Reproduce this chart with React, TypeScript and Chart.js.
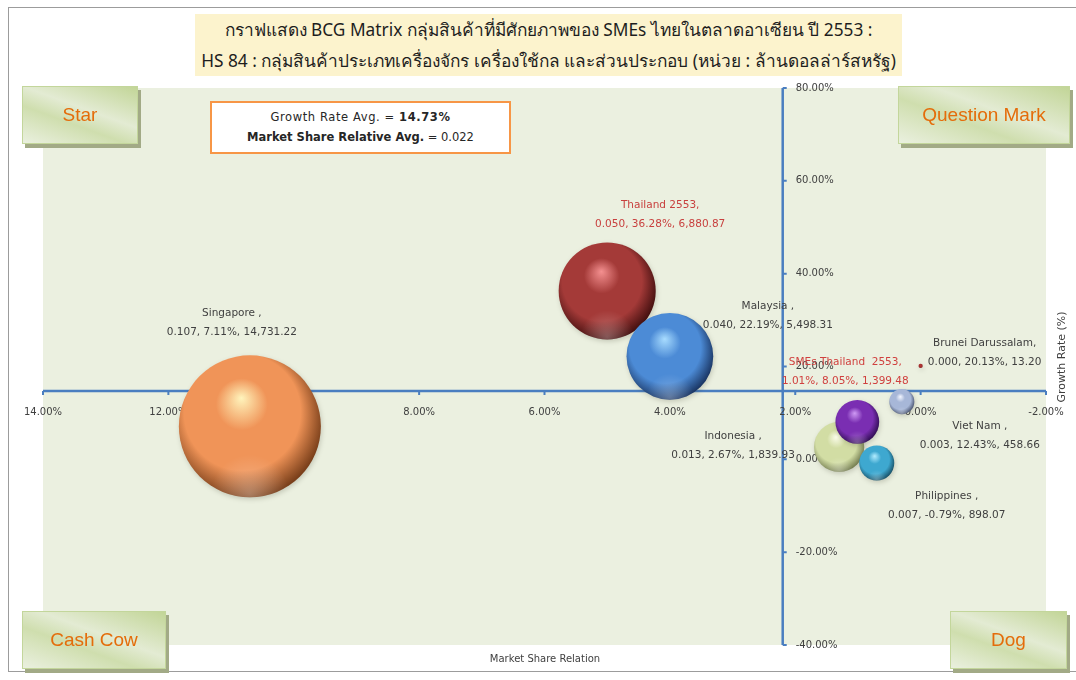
import React, { useEffect, useRef } from "react";
import { Chart, registerables } from "chart.js";

Chart.register(...registerables);

// ---- data ----
const labelNames = [
  "Singapore ,",
  "Thailand 2553,",
  "Malaysia ,",
  "Indonesia ,",
  "SMEs Thailand  2553,",
  "Philippines ,",
  "Viet Nam ,",
  "Brunei Darussalam,",
];
// relative market share (ratio)
const marketShare = [0.107, 0.05, 0.04, 0.013, 0.0101, 0.007, 0.003, 0.0];
// growth rate (%)
const growthRate = [7.11, 36.28, 22.19, 2.67, 8.05, -0.79, 12.43, 20.13];
// export value (million USD)
const exportValue = [14731.22, 6880.87, 5498.31, 1839.93, 1399.48, 898.07, 458.66, 13.2];
// the SMEs series reports its share as a percentage
const shareShownAsPercent = [false, false, false, false, true, false, false, false];

const xTickValues = [14, 12, 10, 8, 6, 4, 2, 0, -2];
const yTickValues = [80, 60, 40, 20, 0, -20, -40];
const growthAvg = 14.73;
const shareAvg = 0.022;

// ---- styling ----
const bubbleShades: [string, string, string][] = [
  ["#FFF4BC", "#F09458", "#7A3F1A"], // Singapore
  ["#F49090", "#A43A38", "#451010"], // Thailand
  ["#A8DCFF", "#4C8BD6", "#1B3765"], // Malaysia
  ["#FBFDEB", "#D2DDA4", "#767F52"], // Indonesia
  ["#CF9AF4", "#7A2EB2", "#330F57"], // SMEs Thailand
  ["#B2ECFF", "#3EA8D0", "#1A546B"], // Philippines
  ["#F3F6FF", "#A7B7D8", "#4F5A76"], // Viet Nam
  ["#C04040", "#A83030", "#7A1A1A"], // Brunei
];
const labelColors = ["#404040", "#C8403E", "#404040", "#404040", "#D0403E", "#404040", "#404040", "#404040"];
const labelOffsets: [number, number][] = [
  [-18, -113],
  [53, -86],
  [98, -50],
  [-106, -11],
  [-12, -60],
  [70, 33],
  [78, 25],
  [64, -23],
];
const BUBBLE_SCALE = 0.585;
const AXIS_BLUE = "#4A7EC0";
const TEXT_FONT = '"DejaVu Sans", "Noto Sans", sans-serif';

const fmtMoney = (v: number) =>
  v.toLocaleString("en-US", { minimumFractionDigits: 2, maximumFractionDigits: 2 });

const valueLine = (i: number) => {
  const share = shareShownAsPercent[i]
    ? (marketShare[i] * 100).toFixed(2) + "%"
    : marketShare[i].toFixed(3);
  return `${share}, ${growthRate[i].toFixed(2)}%, ${fmtMoney(exportValue[i])}`;
};

const plotBackground = {
  id: "plotBackground",
  beforeDraw(chart: any) {
    const { ctx, chartArea } = chart;
    ctx.save();
    ctx.fillStyle = "#EBF0E0";
    ctx.fillRect(chartArea.left, chartArea.top, chartArea.right - chartArea.left, chartArea.bottom - chartArea.top);
    ctx.restore();
  },
};

// axes crossing at the averages, drawn under the bubbles
const crossAxes = {
  id: "crossAxes",
  beforeDatasetsDraw(chart: any) {
    const { ctx, chartArea, scales } = chart;
    const xs = scales.x;
    const ys = scales.y;
    const axisY = ys.getPixelForValue(growthAvg);
    const axisX = xs.getPixelForValue(shareAvg * 100);
    ctx.save();
    ctx.strokeStyle = AXIS_BLUE;
    ctx.lineWidth = 2.5;
    ctx.beginPath();
    ctx.moveTo(chartArea.left, axisY);
    ctx.lineTo(chartArea.right, axisY);
    ctx.moveTo(axisX, chartArea.top);
    ctx.lineTo(axisX, chartArea.bottom);
    ctx.stroke();

    ctx.lineWidth = 2;
    ctx.beginPath();
    xTickValues.forEach((v) => {
      const px = xs.getPixelForValue(v);
      ctx.moveTo(px, axisY);
      ctx.lineTo(px, axisY + 4);
    });
    yTickValues.forEach((v) => {
      const py = ys.getPixelForValue(v);
      ctx.moveTo(axisX, py);
      ctx.lineTo(axisX + 4, py);
    });
    ctx.stroke();

    ctx.fillStyle = "#404040";
    ctx.font = `10px ${TEXT_FONT}`;
    ctx.textAlign = "center";
    ctx.textBaseline = "middle";
    xTickValues.forEach((v) => {
      ctx.fillText(v.toFixed(2) + "%", xs.getPixelForValue(v), axisY + 21);
    });
    ctx.textAlign = "left";
    yTickValues.forEach((v) => {
      ctx.fillText(v.toFixed(2) + "%", axisX + 13, ys.getPixelForValue(v));
    });

    // axis titles
    ctx.font = `10px ${TEXT_FONT}`;
    ctx.textAlign = "center";
    ctx.fillText("Market Share Relation", 545, 659);
    ctx.translate(1062, 357);
    ctx.rotate(-Math.PI / 2);
    ctx.font = `11px ${TEXT_FONT}`;
    ctx.fillText("Growth Rate (%)", 0, 0);
    ctx.restore();
  },
  beforeDatasetDraw(chart: any) {
    const ctx = chart.ctx;
    ctx.save();
    ctx.shadowColor = "rgba(60,60,40,0.22)";
    ctx.shadowBlur = 5;
    ctx.shadowOffsetX = 1;
    ctx.shadowOffsetY = 2;
  },
  afterDatasetDraw(chart: any) {
    chart.ctx.restore();
  },
};

// soft light rim along the lower edge of each sphere, then the data labels
const bubbleLabels = {
  id: "bubbleLabels",
  afterDatasetsDraw(chart: any) {
    const { ctx } = chart;
    const meta = chart.getDatasetMeta(0);
    ctx.save();
    meta.data.forEach((el: any) => {
      const r = el.options.radius;
      if (r < 5) return;
      ctx.save();
      ctx.beginPath();
      ctx.arc(el.x, el.y, r, 0, Math.PI * 2);
      ctx.clip();
      const g = ctx.createRadialGradient(el.x, el.y + r * 0.95, 0, el.x, el.y + r * 0.95, r * 0.55);
      g.addColorStop(0, "rgba(255,255,255,0.28)");
      g.addColorStop(1, "rgba(255,255,255,0)");
      ctx.fillStyle = g;
      ctx.fillRect(el.x - r, el.y - r, 2 * r, 2 * r);
      ctx.restore();
    });

    ctx.font = `10.5px ${TEXT_FONT}`;
    ctx.textAlign = "center";
    ctx.textBaseline = "middle";
    meta.data.forEach((el: any, i: number) => {
      const [dx, dy] = labelOffsets[i];
      ctx.fillStyle = labelColors[i];
      ctx.fillText(labelNames[i], el.x + dx, el.y + dy);
      ctx.fillText(valueLine(i), el.x + dx, el.y + dy + 19);
    });
    ctx.restore();
  },
};

function BcgChart() {
  const canvasRef = useRef<HTMLCanvasElement | null>(null);

  useEffect(() => {
    if (!canvasRef.current) return;
    const points = marketShare.map((s, i) => ({
      x: s * 100,
      y: growthRate[i],
      r: Math.sqrt(exportValue[i]) * BUBBLE_SCALE,
    }));
    const chart = new Chart(canvasRef.current, {
      type: "bubble",
      data: {
        datasets: [
          {
            data: points,
            borderWidth: 0,
            hoverBorderWidth: 0,
            clip: false,
            backgroundColor: (c: any) => {
              const shade = bubbleShades[c.dataIndex] || bubbleShades[0];
              if (c.type !== "data" || !c.chart.chartArea) return shade[1];
              const raw = c.raw;
              const xs = c.chart.scales.x;
              const ys = c.chart.scales.y;
              const cx = xs.getPixelForValue(raw.x);
              const cy = ys.getPixelForValue(raw.y);
              const r = raw.r;
              const g = c.chart.ctx.createRadialGradient(
                cx - r * 0.12, cy - r * 0.4, 0,
                cx - r * 0.1, cy - r * 0.12, r * 1.14
              );
              g.addColorStop(0, shade[0]);
              g.addColorStop(0.32, shade[1]);
              g.addColorStop(0.72, shade[1]);
              g.addColorStop(1, shade[2]);
              return g;
            },
          },
        ],
      },
      options: {
        responsive: false,
        animation: false,
        layout: { autoPadding: false, padding: { left: 43, right: 30, top: 88, bottom: 35 } },
        plugins: { legend: { display: false }, tooltip: { enabled: false }, title: { display: false } },
        events: [],
        scales: {
          x: { type: "linear", min: -2, max: 14, reverse: true, display: false },
          y: { type: "linear", min: -40, max: 80, display: false },
        },
      },
      plugins: [plotBackground, crossAxes, bubbleLabels],
    });
    return () => chart.destroy();
  }, []);

  return (
    <canvas
      ref={canvasRef}
      width={1076}
      height={680}
      style={{ position: "absolute", left: 0, top: 0, width: 1076, height: 680 }}
    />
  );
}

const cornerBox = (left: number, top: number, width: number, label: string) => (
  <div
    style={{
      position: "absolute",
      left,
      top,
      width,
      height: 58,
      boxSizing: "border-box",
      border: "1px solid #C3D69B",
      background: "linear-gradient(200deg, #C2D597 0%, #E3EBD3 42%, #CFDEAE 62%, #EAF0DF 100%)",
      boxShadow: "3px 4px 0 #A2AA86",
      display: "flex",
      alignItems: "center",
      justifyContent: "center",
      color: "#E46C0A",
      fontFamily: '"Liberation Sans", Arial, sans-serif',
      fontSize: 19,
    }}
  >
    {label}
  </div>
);

export default function App() {
  return (
    <div style={{ position: "absolute", left: 0, top: 0, width: 1076, height: 680, background: "#fff", overflow: "hidden" }}>
      <div
        style={{
          position: "absolute",
          left: 8,
          top: 7,
          width: 1068,
          height: 665,
          boxSizing: "border-box",
          borderTop: "1px solid #9C9C9C",
          borderLeft: "1px solid #9C9C9C",
          borderBottom: "1px solid #9C9C9C",
        }}
      />
      <BcgChart />
      <div
        style={{
          position: "absolute",
          left: 195,
          top: 14,
          width: 707,
          height: 62,
          background: "#FCF3CD",
          color: "#1E1E1E",
          fontFamily: '"Noto Sans", "DejaVu Sans", sans-serif',
          fontSize: 17.3,
          lineHeight: "31px",
          textAlign: "center",
          whiteSpace: "nowrap",
        }}
      >
        <div>กราฟแสดง BCG Matrix กลุ่มสินค้าที่มีศักยภาพของ SMEs ไทยในตลาดอาเซียน ปี 2553 :</div>
        <div>HS 84 : กลุ่มสินค้าประเภทเครื่องจักร เครื่องใช้กล และส่วนประกอบ (หน่วย : ล้านดอลล่าร์สหรัฐ)</div>
      </div>
      <div
        style={{
          position: "absolute",
          left: 210,
          top: 101,
          width: 301,
          height: 53,
          boxSizing: "border-box",
          border: "2px solid #F79646",
          background: "#fff",
          color: "#262626",
          fontFamily: TEXT_FONT,
          fontSize: 11.5,
          lineHeight: "20px",
          textAlign: "center",
          paddingTop: 4,
        }}
      >
        <div style={{ letterSpacing: 0.6 }}>
          Growth Rate Avg. = <b>{growthAvg.toFixed(2)}%</b>
        </div>
        <div>
          <span style={{ fontWeight: 600 }}>Market Share Relative Avg.</span> = {shareAvg.toFixed(3)}
        </div>
      </div>
      {cornerBox(22, 86, 116, "Star")}
      {cornerBox(898, 86, 172, "Question Mark")}
      {cornerBox(22, 611, 144, "Cash Cow")}
      {cornerBox(950, 611, 117, "Dog")}
    </div>
  );
}
